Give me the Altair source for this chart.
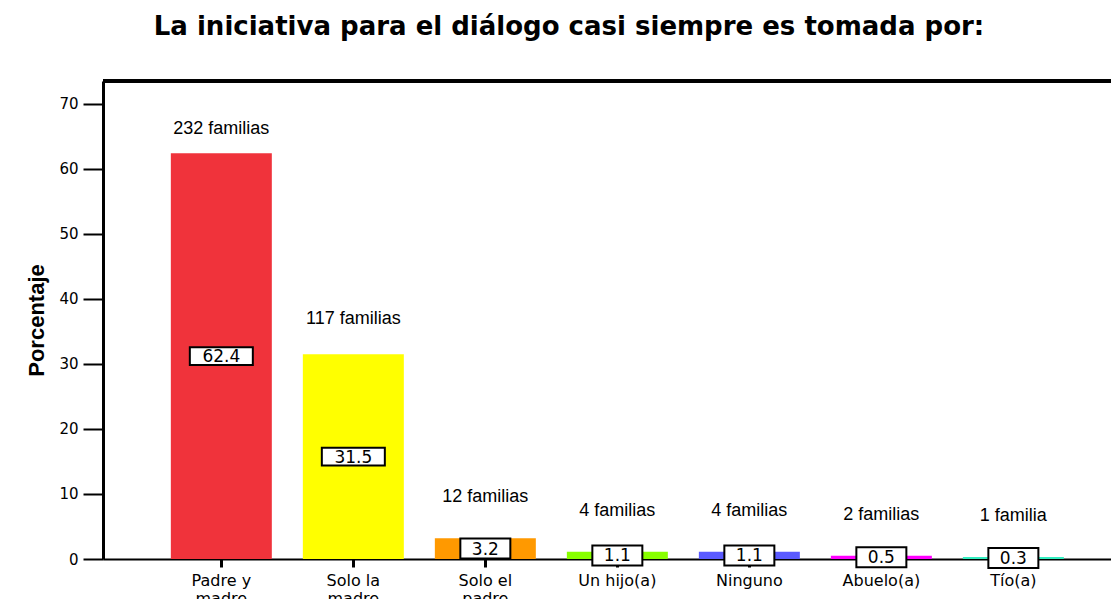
import altair as alt
import pandas as pd

categories = ["Padre y madre", "Solo la madre", "Solo el padre", "Un hijo(a)",
              "Ninguno", "Abuelo(a)", "Tío(a)"]
percent = [62.4, 31.5, 3.2, 1.1, 1.1, 0.5, 0.3]
families = ["232 familias", "117 familias", "12 familias", "4 familias",
            "4 familias", "2  familias", "1  familia"]
colors = ["#F0333B", "#FFFF00", "#FF9900", "#88FF00", "#5A5AFF", "#FF00FF", "#33EEC0"]
y_ticks = [0, 10, 20, 30, 40, 50, 60, 70]

df = pd.DataFrame({"cat": categories, "pct": percent, "fam": families})

xenc = alt.X("cat:N", sort=categories,
             scale=alt.Scale(paddingInner=0.235, paddingOuter=0.4355, align=0.59),
             axis=alt.Axis(title=None, labelAngle=0, labelFont="DejaVu Sans",
                           labelFontSize=16, labelColor="black", labelPadding=5,
                           labelLineHeight=18,
                           labelExpr="indexof(datum.label, ' ') != lastindexof(datum.label, ' ') ? [substring(datum.label, 0, lastindexof(datum.label, ' ')), substring(datum.label, lastindexof(datum.label, ' ') + 1)] : datum.label",
                           domainColor="black", domainWidth=2, tickColor="black",
                           tickWidth=3, tickSize=8))

yscale = alt.Scale(domain=[0, 73.5], nice=False)

base = alt.Chart(df)

bars = base.mark_bar().encode(
    x=xenc,
    y=alt.Y("pct:Q", scale=yscale,
            axis=alt.Axis(title="Porcentaje", values=y_ticks, grid=False,
                          labelFont="DejaVu Sans", labelFontSize=15, labelColor="black",
                          labelPadding=5, tickSize=20, tickWidth=2, tickColor="black",
                          domainColor="black", domainWidth=3,
                          titleFont="Liberation Sans Narrow, Liberation Sans",
                          titleFontSize=22, titleFontWeight="bold", titleColor="black",
                          titlePadding=10)),
    color=alt.Color("cat:N", sort=categories,
                    scale=alt.Scale(domain=categories, range=colors), legend=None),
)

mid = base.transform_calculate(mid="datum.pct / 2", n="length(format(datum.pct, '.1f'))")

box_wide = mid.transform_filter("datum.n >= 4").mark_point(
    shape="M-1,-0.28L1,-0.28L1,0.28L-1,0.28Z", size=63 * 63, filled=True,
    fill="white", stroke="black", strokeWidth=2, opacity=1
).encode(x=alt.X("cat:N", sort=categories), y=alt.Y("mid:Q", scale=yscale))

box_narrow = mid.transform_filter("datum.n < 4").mark_point(
    shape="M-1,-0.4L1,-0.4L1,0.4L-1,0.4Z", size=50 * 50, filled=True,
    fill="white", stroke="black", strokeWidth=2, opacity=1
).encode(x=alt.X("cat:N", sort=categories), y=alt.Y("mid:Q", scale=yscale))

box_text = mid.mark_text(font="DejaVu Sans", fontSize=17, color="black", dy=1).encode(
    x=alt.X("cat:N", sort=categories), y=alt.Y("mid:Q", scale=yscale),
    text=alt.Text("pct:Q", format=".1f"))

fam_big = base.transform_filter("datum.pct > 50").mark_text(
    font="Liberation Sans", fontSize=18, color="black", dy=-24).encode(
    x=alt.X("cat:N", sort=categories), y=alt.Y("pct:Q", scale=yscale), text="fam:N")
fam_mid = base.transform_filter("datum.pct > 20 && datum.pct <= 50").mark_text(
    font="Liberation Sans", fontSize=18, color="black", dy=-35).encode(
    x=alt.X("cat:N", sort=categories), y=alt.Y("pct:Q", scale=yscale), text="fam:N")
fam_small = base.transform_filter("datum.pct <= 20").mark_text(
    font="Liberation Sans", fontSize=18, color="black", dy=-41).encode(
    x=alt.X("cat:N", sort=categories), y=alt.Y("pct:Q", scale=yscale), text="fam:N")

top_rule = base.mark_rule(color="black", strokeWidth=3).encode(y=alt.value(0))

chart = alt.layer(bars, box_wide, box_narrow, box_text, fam_big, fam_mid, fam_small,
                  top_rule).properties(
    width=1008, height=478,
    autosize=alt.AutoSizeParams(type="none"),
    padding={"left": 95, "top": 73, "right": 0, "bottom": 40},
    title=alt.TitleParams("La iniciativa para el diálogo casi siempre es tomada por:",
                          font="DejaVu Sans", fontSize=26, fontWeight="bold",
                          color="black", anchor="middle", dx=-38, offset=40),
).configure_view(stroke=None)

chart.save("out.html", embed_options={"renderer": "svg", "actions": False})
